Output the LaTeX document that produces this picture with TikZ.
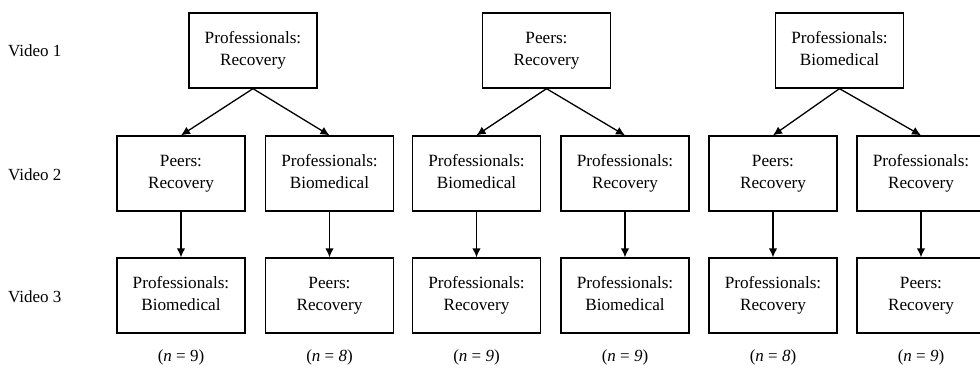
\documentclass[tikz,border=0pt]{standalone}
\usepackage{fontspec}
\setmainfont{Liberation Serif}
\usetikzlibrary{arrows.meta}
\newcommand\twoline[2]{\strut#1\\#2\strut}
\tikzset{
  cond/.style={draw, line width=1.3pt, minimum width=128pt, minimum height=75pt, inner sep=0pt, align=center,
    font=\fontsize{17.2}{22}\selectfont},
  rowlab/.style={anchor=west, inner sep=0pt, font=\fontsize{17}{22}\selectfont},
  nlab/.style={inner sep=0pt, font=\fontsize{17}{22}\selectfont},
  arr/.style={line width=1.3pt, -{Latex[length=9pt,width=8.5pt]}}
}
\begin{document}
\begin{tikzpicture}[x=1pt,y=-1pt]
\useasboundingbox (0,0) rectangle (980,380);
\clip (0,0) rectangle (980,380);
% row labels
\node[rowlab] (v1) at (8,51) {Video 1};
\node[rowlab] (v2) at (8,175) {Video 2};
\node[rowlab] (v3) at (8,297) {Video 3};
% group 1
\node[cond] (t1) at (253,50.5) {\twoline{Professionals:}{Recovery}};
\node[cond] (a2) at (181,173.5) {\twoline{Peers:}{Recovery}};
\node[cond] (b2) at (329.5,173.5) {\twoline{Professionals:}{Biomedical}};
\node[cond] (a3) at (181,295.5) {\twoline{Professionals:}{Biomedical}};
\node[cond] (b3) at (329.5,295.5) {\twoline{Peers:}{Recovery}};
% group 2
\node[cond] (t2) at (546.5,50.5) {\twoline{Peers:}{Recovery}};
\node[cond] (c2) at (476.5,173.5) {\twoline{Professionals:}{Biomedical}};
\node[cond] (d2) at (625,173.5) {\twoline{Professionals:}{Recovery}};
\node[cond] (c3) at (476.5,295.5) {\twoline{Professionals:}{Recovery}};
\node[cond] (d3) at (625,295.5) {\twoline{Professionals:}{Biomedical}};
% group 3
\node[cond] (t3) at (839.5,50.5) {\twoline{Professionals:}{Biomedical}};
\node[cond] (e2) at (773,173.5) {\twoline{Peers:}{Recovery}};
\node[cond] (f2) at (921,173.5) {\twoline{Professionals:}{Recovery}};
\node[cond] (e3) at (773,295.5) {\twoline{Professionals:}{Recovery}};
\node[cond] (f3) at (921,295.5) {\twoline{Peers:}{Recovery}};
% n labels
\node[nlab] (na) at (181,357) {(\textit{n} = 9)};
\node[nlab] (nb) at (329.5,357) {(\textit{n} = \textit{8})};
\node[nlab] (nc) at (476.5,357) {(\textit{n} = \textit{9})};
\node[nlab] (nd) at (625,357) {(\textit{n} = \textit{9})};
\node[nlab] (ne) at (773,357) {(\textit{n} = \textit{8})};
\node[nlab] (nf) at (921,357) {(\textit{n} = \textit{9})};
% arrows
\draw[arr] (t1.south) -- (a2.north);
\draw[arr] (t1.south) -- (b2.north);
\draw[arr] (t2.south) -- (c2.north);
\draw[arr] (t2.south) -- (d2.north);
\draw[arr] (t3.south) -- (e2.north);
\draw[arr] (t3.south) -- (f2.north);
\draw[arr] (a2) -- (a3);
\draw[arr] (b2) -- (b3);
\draw[arr] (c2) -- (c3);
\draw[arr] (d2) -- (d3);
\draw[arr] (e2) -- (e3);
\draw[arr] (f2) -- (f3);
\end{tikzpicture}
\end{document}
